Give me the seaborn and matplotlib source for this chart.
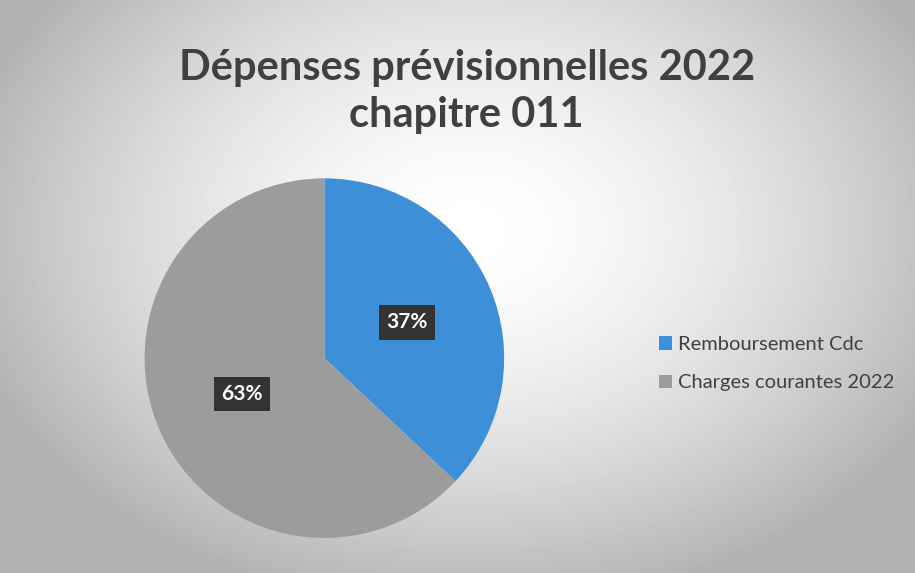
import numpy as np
import matplotlib
matplotlib.use("Agg")
import matplotlib.pyplot as plt
import seaborn as sns

# data
labels = ["Remboursement Cdc", "Charges courantes 2022"]
shares = [37, 63]
colors = ["#3d8fd8", "#9c9c9c"]
title = "Dépenses prévisionnelles 2022\nchapitre 011"

sns.set_theme(style="white")
plt.rcParams['font.family'] = ['Lato', 'DejaVu Sans']

fig = plt.figure(figsize=(9.15, 5.73), dpi=100)

# radial background like the scanned slide
bg = fig.add_axes([0, 0, 1, 1])
yy, xx = np.mgrid[0:573, 0:915]
d = np.sqrt(((xx - 470) / 520.0) ** 2 + ((yy - 230) / 380.0) ** 2)
shade = np.clip(1.0 - 0.30 * d ** 1.6, 0.70, 1.0)
bg.imshow(shade, cmap="gray", vmin=0, vmax=1, aspect="auto")
bg.set_axis_off()

fig.text(0.51, 0.84, title, ha="center", va="center", fontsize=30,
         fontweight="bold", color="#404040", linespacing=1.3)

ax = fig.add_axes([0.158, 0.061, 0.393, 0.628])
wedges, texts, autotexts = ax.pie(
    shares, colors=colors, startangle=90, counterclock=False,
    autopct="%1.0f%%", pctdistance=0.5,
    wedgeprops=dict(linewidth=0),
    textprops=dict(color="white", fontsize=15, fontweight="bold"))
for t in autotexts:
    t.set_bbox(dict(boxstyle="square,pad=0.35", facecolor="#333333", edgecolor="none"))
ax.set_xlim(-1, 1)
ax.set_ylim(-1, 1)
ax.set_aspect("equal")

leg = fig.legend(wedges, labels, loc="center left", bbox_to_anchor=(0.70, 0.365),
                 frameon=False, fontsize=14.5, handlelength=0.65, handleheight=0.65,
                 handletextpad=0.3, labelspacing=1.05, labelcolor="#404040")

fig.savefig("out.png", dpi=100)
